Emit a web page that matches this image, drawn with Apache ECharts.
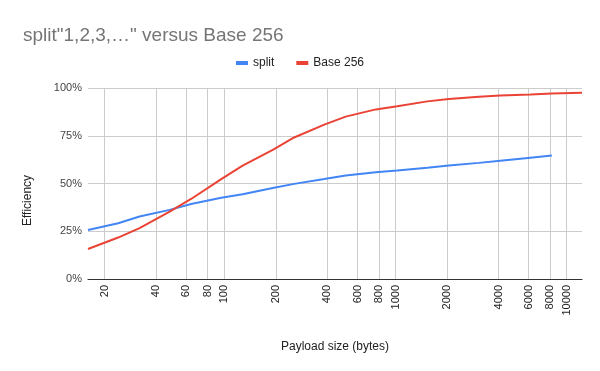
<!DOCTYPE html>
<html><head><meta charset="utf-8">
<script src="https://cdn.jsdelivr.net/npm/echarts@6/dist/echarts.min.js"></script>
<style>html,body{margin:0;padding:0;background:#fff}#c{width:600px;height:371px}</style>
</head><body><div id="c"></div>
<script>
const payloadSizes = [16, 24, 32, 48, 64, 96, 128, 192, 256, 384, 512, 768, 1024, 1536, 2048, 3072, 4096, 6144, 8192, 12288];
const splitEff = [25.7, 29.2, 32.7, 36.2, 39.3, 42.5, 44.4, 47.6, 49.8, 52.3, 54.2, 55.9, 56.8, 58.2, 59.4, 60.8, 61.9, 63.5, 64.6, null];
const base256Eff = [15.7, 21.7, 26.6, 35.3, 41.9, 52.3, 59.4, 67.6, 74.1, 80.8, 85.0, 88.8, 90.4, 93.0, 94.2, 95.4, 96.1, 96.6, 97.1, 97.5];
const xTickValues = [20, 40, 60, 80, 100, 200, 400, 600, 800, 1000, 2000, 4000, 6000, 8000, 10000];
const yTickValues = [0, 25, 50, 75, 100];

const font = '"Liberation Sans", Arial, sans-serif';
const pairs = (ys) => payloadSizes.map((x, i) => [x, ys[i]]).filter(p => p[1] !== null);

const chart = echarts.init(document.getElementById('c'), null, {renderer: 'canvas'});
chart.setOption({
  animation: false,
  textStyle: {fontFamily: font},
  title: {
    text: 'split"1,2,3,\u2026" versus Base 256',
    left: 18, top: 21,
    textStyle: {fontFamily: font, fontSize: 19, fontWeight: 'normal', color: '#757575'}
  },
  legend: {
    top: 52, left: 'center',
    itemWidth: 12, itemHeight: 4, itemGap: 22,
    icon: 'rect',
    textStyle: {fontFamily: font, fontSize: 12, color: '#222'},
    data: ['split', 'Base 256']
  },
  grid: {left: 88, right: 18, top: 88, bottom: 92},
  xAxis: {
    type: 'log', logBase: 10, min: 16, max: 12288,
    name: 'Payload size (bytes)', nameLocation: 'middle', nameGap: 62,
    nameTextStyle: {fontFamily: font, fontSize: 12, color: '#222'},
    axisLine: {show: true, lineStyle: {color: '#333', width: 1}},
    axisTick: {show: false, customValues: xTickValues},
    axisLabel: {customValues: xTickValues, rotate: 90, fontSize: 11, color: '#222', margin: 6,
      formatter: (v) => String(Math.round(v))},
    splitLine: {show: true, lineStyle: {color: '#ccc', width: 1}},
    minorSplitLine: {show: false}
  },
  yAxis: {
    type: 'value', min: 0, max: 100, interval: 25,
    name: 'Efficiency', nameLocation: 'middle', nameGap: 54,
    nameTextStyle: {fontFamily: font, fontSize: 12, color: '#222', padding: [0, 34, 0, 0]},
    axisLine: {show: false}, axisTick: {show: false},
    axisLabel: {formatter: (v) => v + '%', fontSize: 11, color: '#444', margin: 6},
    splitLine: {show: true, lineStyle: {color: '#ccc', width: 1}}
  },
  series: [
    {name: 'split', type: 'line', data: pairs(splitEff), showSymbol: false, symbol: 'none',
      lineStyle: {color: '#4285F4', width: 2}, itemStyle: {color: '#4285F4'}, z: 3},
    {name: 'Base 256', type: 'line', data: pairs(base256Eff), showSymbol: false, symbol: 'none',
      lineStyle: {color: '#EA4335', width: 2}, itemStyle: {color: '#EA4335'}, z: 4}
  ]
});
</script></body></html>
